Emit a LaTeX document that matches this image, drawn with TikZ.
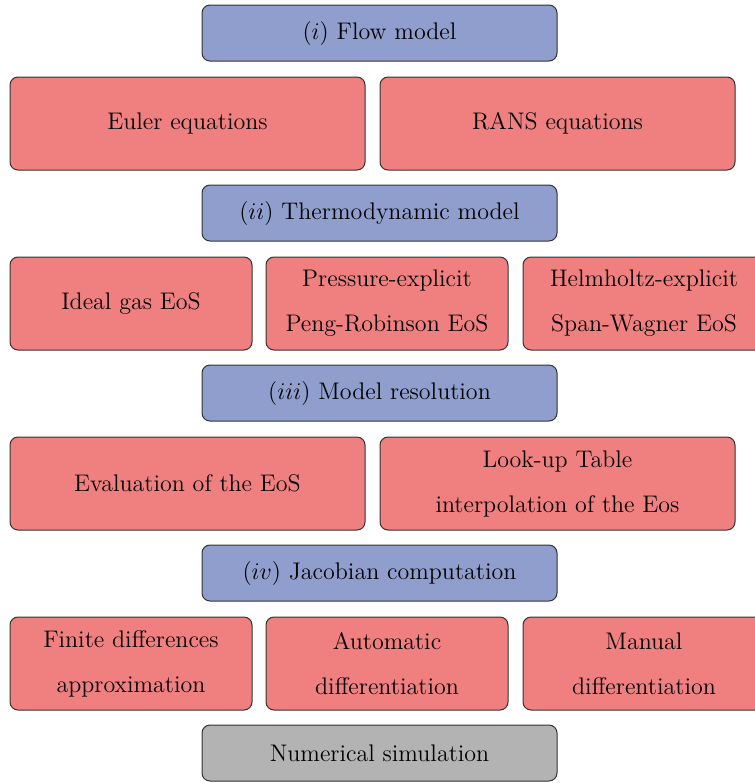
\documentclass[tikz,border=0pt]{standalone}
\usepackage{fontspec}
\begin{document}
\begin{tikzpicture}[x=0.5pt,y=-0.5pt,
  box/.style={draw=black!80, line width=0.5pt, rounded corners=4pt, inner sep=0pt, align=center, font=\fontsize{12}{22.5}\selectfont},
  hdr/.style={box, fill=hdrblue, minimum width=177.5pt, minimum height=28pt},
  wide/.style={box, fill=boxred, minimum width=177.5pt, minimum height=46.5pt},
  narrow/.style={box, fill=boxred, minimum width=121pt, minimum height=46.5pt},
  fin/.style={box, fill=fingray, minimum width=177.5pt, minimum height=28pt}]
\definecolor{hdrblue}{HTML}{8F9ECC}
\definecolor{boxred}{HTML}{F08080}
\definecolor{fingray}{HTML}{B3B3B3}
\useasboundingbox (0,0) rectangle (755,783);
\clip (0,0) rectangle (755,783);
\node[hdr] (h1) at (379.5,33) {$(i)$ Flow model};
\node[wide] (euler) at (187.5,123.5) {Euler equations};
\node[wide] (rans) at (557.5,123.5) {RANS equations};
\node[hdr] (h2) at (379.5,213) {$(ii)$ Thermodynamic model};
\node[narrow] (ideal) at (131,303.5) {Ideal gas EoS};
\node[narrow] (pr) at (387,303.5) {Pressure-explicit\\Peng-Robinson EoS};
\node[narrow] (sw) at (644,303.5) {Helmholtz-explicit\\Span-Wagner EoS};
\node[hdr] (h3) at (379.5,393) {$(iii)$ Model resolution};
\node[wide] (eval) at (187.5,483.5) {Evaluation of the EoS};
\node[wide] (lut) at (557.5,483.5) {Look-up Table\\interpolation of the Eos};
\node[hdr] (h4) at (379.5,573) {$(iv)$ Jacobian computation};
\node[narrow] (fd) at (131,663.5) {Finite differences\\approximation};
\node[narrow] (ad) at (387,663.5) {Automatic\\differentiation};
\node[narrow] (md) at (644,663.5) {Manual\\differentiation};
\node[fin] (sim) at (379.5,753) {Numerical simulation};
\end{tikzpicture}
\end{document}
